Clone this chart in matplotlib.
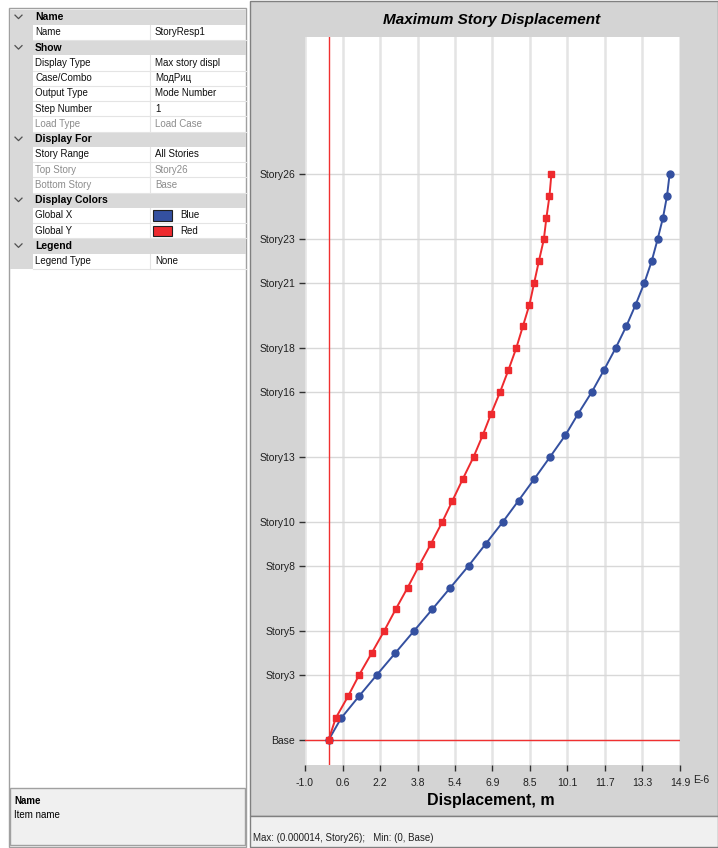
import matplotlib.pyplot as plt
from matplotlib.patches import Rectangle

plt.rcParams['font.family'] = ['Liberation Sans', 'DejaVu Sans']

# Story levels, bottom to top
stories = ['Base'] + ['Story%d' % i for i in range(1, 27)]
labeled_stories = ['Base', 'Story3', 'Story5', 'Story8', 'Story10', 'Story13',
                   'Story16', 'Story18', 'Story21', 'Story23', 'Story26']

# Maximum story displacement, units of 1E-6 m
disp_global_x = [0.0, 0.53, 1.28, 2.05, 2.83, 3.61, 4.39, 5.16, 5.93, 6.65,
                 7.37, 8.05, 8.72, 9.38, 10.03, 10.58, 11.16, 11.67, 12.16,
                 12.61, 13.01, 13.38, 13.69, 13.94, 14.17, 14.34, 14.45]
disp_global_y = [0.0, 0.30, 0.82, 1.30, 1.83, 2.35, 2.84, 3.35, 3.83, 4.33,
                 4.81, 5.25, 5.69, 6.14, 6.53, 6.89, 7.27, 7.62, 7.95, 8.23,
                 8.51, 8.71, 8.91, 9.12, 9.23, 9.36, 9.44]

x_ticks = [-1.0, 0.59, 2.18, 3.77, 5.36, 6.94, 8.53, 10.12, 11.71, 13.30, 14.89]
x_tick_labels = ['-1.0', '0.6', '2.2', '3.8', '5.4', '6.9', '8.5', '10.1',
                 '11.7', '13.3', '14.9']

# Property grid: (name, value, kind)
grid_rows = [
    ('Name', None, 'header'),
    ('Name', 'StoryResp1', 'row'),
    ('Show', None, 'header'),
    ('Display Type', 'Max story displ', 'row'),
    ('Case/Combo', 'МодРиц', 'row'),
    ('Output Type', 'Mode Number', 'row'),
    ('Step Number', '1', 'row'),
    ('Load Type', 'Load Case', 'disabled'),
    ('Display For', None, 'header'),
    ('Story Range', 'All Stories', 'row'),
    ('Top Story', 'Story26', 'disabled'),
    ('Bottom Story', 'Base', 'disabled'),
    ('Display Colors', None, 'header'),
    ('Global X', 'Blue', 'swatch'),
    ('Global Y', 'Red', 'swatch'),
    ('Legend', None, 'header'),
    ('Legend Type', 'None', 'row'),
]

BLUE = '#3450a0'
RED = '#ee2a2e'
PANEL_GRAY = '#d4d4d4'
HEADER_GRAY = '#d9d9d9'

W, H = 718, 848
fig = plt.figure(figsize=(W / 100, H / 100), dpi=100)
fig.patch.set_facecolor('white')

# Pixel-space canvas for the panels
bg = fig.add_axes([0, 0, 1, 1])
bg.set_xlim(0, W)
bg.set_ylim(H, 0)
bg.axis('off')

# ---- left property panel ----
bg.add_patch(Rectangle((9, 8), 237, 839, facecolor='white', edgecolor='#a0a0a0', lw=1))
row_h = 15.25
top = 9.5
for i, (name, value, kind) in enumerate(grid_rows):
    y0 = top + i * row_h
    yc = y0 + row_h / 2
    if kind == 'header':
        bg.add_patch(Rectangle((10, y0), 236, row_h, facecolor=HEADER_GRAY, edgecolor='none'))
        # collapse chevron
        bg.plot([15, 18.5, 22], [yc - 2, yc + 1.5, yc - 2], color='#505050', lw=0.9)
        bg.text(35, yc, name, fontsize=7.5, fontweight='bold', va='center', ha='left')
    else:
        bg.add_patch(Rectangle((10, y0), 23, row_h, facecolor=HEADER_GRAY, edgecolor='none'))
        bg.plot([33, 246], [y0 + row_h, y0 + row_h], color='#e4e4e4', lw=0.8)
        bg.plot([150, 150], [y0, y0 + row_h], color='#e4e4e4', lw=0.8)
        color = '#8c8c8c' if kind == 'disabled' else '#101010'
        bg.text(35, yc, name, fontsize=7, va='center', ha='left', color=color)
        vx = 155
        if kind == 'swatch':
            sw = BLUE if value == 'Blue' else RED
            bg.add_patch(Rectangle((153, y0 + 2.5), 19, 10.5, facecolor=sw,
                                   edgecolor='#202020', lw=0.8))
            vx = 180
        bg.text(vx, yc, value, fontsize=7, va='center', ha='left', color=color)

# description box
bg.add_patch(Rectangle((10, 788), 235, 57, facecolor='#f0f0f0', edgecolor='#a0a0a0', lw=1))
bg.text(14, 801, 'Name', fontsize=7, fontweight='bold', va='center')
bg.text(14, 815, 'Item name', fontsize=7, va='center')

# ---- right chart panel ----
bg.add_patch(Rectangle((250, 0.5), 468, 815, facecolor=PANEL_GRAY, edgecolor='#808080', lw=1))
bg.add_patch(Rectangle((250, 816), 468, 31, facecolor='#f0f0f0', edgecolor='#808080', lw=1))

peak = max(max(disp_global_x), max(disp_global_y)) * 1e-6
bg.text(253, 838, 'Max: (%.6f, %s);   Min: (0, %s)' % (peak, stories[-1], stories[0]),
        fontsize=7, va='center', ha='left', color='#202020')

bg.text(492, 20, 'Maximum Story Displacement', fontsize=11, fontweight='bold',
        fontstyle='italic', ha='center', va='center')
bg.text(491, 800, 'Displacement, m', fontsize=11.5, fontweight='bold',
        ha='center', va='center')

# Plot area
left, right, ptop, pbot = 305, 680, 37, 765
ax = fig.add_axes([left / W, 1 - pbot / H, (right - left) / W, (pbot - ptop) / H])
ax.set_facecolor('white')

levels = list(range(len(stories)))
ax.plot(disp_global_x, levels, color=BLUE, lw=1.4, marker='o', markersize=5,
        zorder=4)
ax.plot(disp_global_y, levels, color=RED, lw=1.4, marker='s', markersize=5,
        zorder=4)

ax.axvline(0, color='#f03030', lw=1, zorder=3)
ax.axhline(0, color='#f03030', lw=1, zorder=3)

ax.set_xlim(x_ticks[0], x_ticks[-1])
ax.set_ylim(-1.15, 32.3)
ax.set_xticks(x_ticks)
ax.set_xticklabels(x_tick_labels)
ax.set_yticks([stories.index(s) for s in labeled_stories])
ax.set_yticklabels(labeled_stories)

for xt in x_ticks:
    ax.axvline(xt, color='#e4e4e4', lw=1.8, zorder=1)
for s in labeled_stories:
    ax.axhline(stories.index(s), color='#d8d8d8', lw=1, zorder=1)

for sp in ax.spines.values():
    sp.set_visible(False)
ax.tick_params(axis='both', direction='out', length=4, width=1, color='#303030',
               labelsize=7.5, labelcolor='#202020')
ax.tick_params(axis='x', pad=5)
ax.tick_params(axis='y', pad=3)

bg.text(693, 780, 'E-6', fontsize=7.5, color='#202020', ha='left', va='center')
bg.set_zorder(0)
ax.set_zorder(1)

fig.savefig('out.png', dpi=100)
